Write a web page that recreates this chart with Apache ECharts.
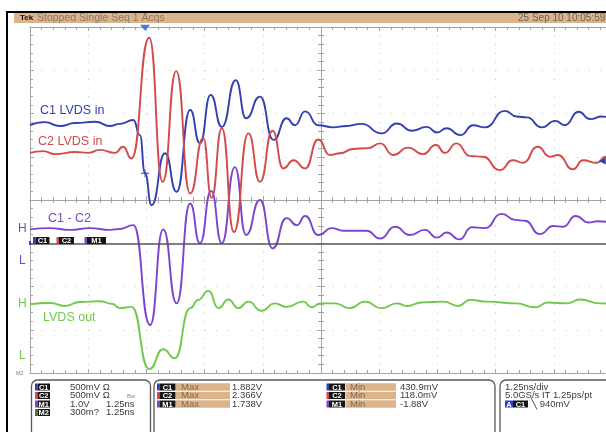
<!DOCTYPE html>
<html>
<head>
<meta charset="utf-8">
<script src="https://cdn.jsdelivr.net/npm/echarts@6/dist/echarts.min.js"></script>
<style>
html, body { margin: 0; padding: 0; background: #fff; }
#scope { width: 606px; height: 432px; }
</style>
</head>
<body>
<div id="scope"></div>
<script>
// time in ns (1.25 ns/div, trigger at 0), level in screen divisions (centre = 0)
var c1In = [[-2.50,1.73],[-2.18,1.80],[-1.86,1.71],[-1.53,1.78],[-1.10,1.81],[-0.78,1.71],[-0.57,1.76],[-0.28,1.85],
  [-0.14,1.50],[-0.03,0.62],[0.11,-0.12],[0.40,1.08],[0.65,0.19],[0.94,2.08],[1.15,1.31],[1.38,2.43],[1.62,1.69],
  [1.92,2.77],[2.14,1.89],[2.44,2.39],[2.73,1.39],[3.01,1.89],[3.19,1.73],[3.41,2.05],[3.69,1.73],[4.01,1.68],
  [4.30,1.71],[4.62,1.76],[5.05,1.54],[5.38,1.77],[5.70,1.60],[6.02,1.69],[6.24,1.56],[6.45,1.66],[6.74,1.50],
  [7.02,1.73],[7.27,1.68],[7.70,2.06],[7.95,1.93],[8.17,1.91],[8.49,1.68],[8.78,1.83],[8.99,1.73],[9.28,2.04],
  [9.53,1.87],[9.78,1.93],[10.0,1.88]];

var c2In = [[-2.50,1.09],[-2.22,1.13],[-1.96,1.06],[-1.53,1.11],[-1.25,1.09],[-1.00,1.16],[-0.67,1.09],[-0.50,1.23],
  [-0.32,0.96],[0.06,3.75],[0.35,0.42],[0.64,2.98],[0.94,0.15],[1.22,1.43],[1.40,0.05],[1.62,1.66],[1.88,-0.74],
  [2.19,1.54],[2.44,0.42],[2.71,1.60],[2.94,0.73],[3.16,0.92],[3.41,0.73],[3.69,1.40],[3.94,1.04],[4.16,1.08],
  [4.44,1.18],[4.76,1.20],[5.02,1.31],[5.30,1.04],[5.62,1.21],[5.94,1.06],[6.22,1.27],[6.41,1.09],[6.66,1.31],
  [6.95,1.02],[7.23,1.00],[7.59,0.69],[7.87,0.92],[8.09,0.86],[8.40,1.23],[8.67,1.00],[8.84,1.04],[9.16,0.71],
  [9.38,0.92],[9.67,0.86],[9.87,1.00],[10.0,1.05]];

var m1Diff = [[-2.50,-0.68],[-2.07,-0.65],[-1.64,-0.69],[-1.21,-0.65],[-0.78,-0.69],[-0.57,-0.67],[-0.28,-0.58],
  [0.08,-2.89],[0.36,-0.68],[0.65,-2.39],[0.94,-0.08],[1.15,-1.00],[1.39,0.21],[1.62,-1.00],[1.90,0.76],[2.14,-0.81],
  [2.44,0.00],[2.71,-1.12],[3.01,-0.42],[3.23,-0.58],[3.41,-0.37],[3.69,-0.81],[3.98,-0.65],[4.23,-0.71],[4.73,-0.71],
  [5.02,-0.89],[5.34,-0.62],[5.66,-0.81],[5.98,-0.69],[6.24,-0.87],[6.45,-0.75],[6.72,-0.91],[6.99,-0.63],[7.27,-0.65],
  [7.63,-0.32],[7.92,-0.46],[8.13,-0.48],[8.45,-0.79],[8.74,-0.60],[8.95,-0.62],[9.22,-0.37],[9.49,-0.52],[9.70,-0.49],
  [10.0,-0.54]];

var lvdsOut = [[-2.50,-2.41],[-2.07,-2.38],[-1.75,-2.45],[-1.43,-2.36],[-1.00,-2.34],[-0.74,-2.40],[-0.57,-2.50],
  [-0.32,-2.47],[0.06,-3.91],[0.36,-3.45],[0.61,-3.66],[0.94,-2.50],[1.11,-2.31],[1.33,-2.10],[1.55,-2.50],[1.76,-2.30],
  [1.97,-2.50],[2.19,-2.35],[2.47,-2.56],[2.76,-2.39],[3.01,-2.47],[3.37,-2.35],[3.55,-2.48],[3.73,-2.39],[4.05,-2.39],
  [4.37,-2.50],[4.69,-2.35],[5.05,-2.50],[5.38,-2.39],[5.59,-2.45],[5.91,-2.37],[6.38,-2.35],[6.70,-2.45],[6.95,-2.31],
  [7.31,-2.35],[7.95,-2.39],[8.34,-2.48],[8.63,-2.37],[9.03,-2.39],[9.31,-2.30],[9.74,-2.39],[10.0,-2.40]];

var refLevel = -1.02;   // dark reference line
var chanRows = [['C1', '500mV Ω', ''], ['C2', '500mV Ω', ''], ['M1', '1.0V', '1.25ns'], ['M2', '300m?', '1.25ns']];
var maxVals = ['1.882V', '2.366V', '1.738V'];
var minVals = ['430.9mV', '118.0mV', '-1.88V'];

var BLUE = '#3440b0', RED = '#d24a4a', PURPLE = '#7b45cf', GREEN = '#70c94a', OLIVE = '#4b7a2c';
var TAN = '#dbb48c', TICK = '#a4a4a4';
var FONT = '"Liberation Sans", Arial, sans-serif';
var stripeCol = { C1: BLUE, C2: RED, M1: PURPLE, M2: OLIVE };

var chart = echarts.init(document.getElementById('scope'));

function xAx(pos, offset, grid) {
  return {
    type: 'value', min: -2.5, max: 10, interval: 1.25, position: pos, offset: offset,
    axisLine: { onZero: false, lineStyle: { color: TICK, width: 1 } },
    axisTick: { inside: true, length: 4, lineStyle: { color: TICK } },
    minorTick: { show: true, splitNumber: 5, length: 3, lineStyle: { color: TICK } },
    axisLabel: { show: false },
    splitLine: { show: grid, lineStyle: { color: '#c4c4c4', type: [1, 7.65], width: 1 } }
  };
}
function yAx(pos, offset, grid) {
  return {
    type: 'value', min: -4, max: 4, interval: 1, position: pos, offset: offset,
    axisLine: { onZero: false, lineStyle: { color: TICK, width: 1 } },
    axisTick: { inside: true, length: 4, lineStyle: { color: TICK } },
    minorTick: { show: true, splitNumber: 5, length: 3, lineStyle: { color: TICK } },
    axisLabel: { show: false },
    splitLine: { show: grid, lineStyle: { color: '#c4c4c4', type: [1, 10.64], width: 1 } }
  };
}
function trace(name, data, color) {
  return {
    name: name, type: 'line', data: data, showSymbol: false, smooth: 0.55, smoothMonotone: 'x',
    lineStyle: { color: color, width: 1.9 }, itemStyle: { color: color }, z: 3
  };
}
function txt(x, y, s, size, color, extra) {
  return { type: 'text', x: x, y: y, silent: true, z: 100,
    style: Object.assign({ text: s, font: size + 'px ' + FONT, fill: color, verticalAlign: 'middle' }, extra || {}) };
}
function box(x, y, w, h, fill, extra) {
  return { type: 'rect', silent: true, z: 99, shape: Object.assign({ x: x, y: y, width: w, height: h }, extra || {}), style: { fill: fill } };
}
function badge(x, y, label, w) {
  return [
    box(x, y - 3.5, 2.5, 7, stripeCol[label]),
    box(x + 2.5, y - 3.5, w, 7, '#151515'),
    txt(x + 2.5 + w / 2, y + 0.5, label, 7.5, '#fff', { align: 'center', font: 'bold 7.5px ' + FONT })
  ];
}

var g = [];
// screen frame and title strip
g.push({ type: 'line', silent: true, shape: { x1: 7, y1: 12, x2: 7, y2: 432 }, style: { stroke: '#000', lineWidth: 2 } });
g.push({ type: 'line', silent: true, shape: { x1: 6, y1: 12, x2: 606, y2: 12 }, style: { stroke: '#000', lineWidth: 2 } });
g.push(box(14, 13, 592, 10, TAN));
g.push(txt(20, 18, 'Tek', 8, '#111', { font: 'bold 8px ' + FONT }));
g.push(txt(37, 18, 'Stopped Single Seq 1 Acqs', 10.5, '#8a7a6a'));
g.push(txt(518, 18, '25 Sep 10 10:05:59', 10, '#6a6258'));

// trace labels
g.push(txt(40, 111, 'C1 LVDS in', 12.5, BLUE));
g.push(txt(38, 142, 'C2 LVDS in', 12.5, RED));
g.push(txt(48, 219, 'C1 - C2', 12.5, PURPLE));
g.push(txt(43, 318, 'LVDS out', 12.5, GREEN));
g.push(txt(18, 229, 'H', 12, PURPLE));
g.push(txt(19, 261, 'L', 12, PURPLE));
g.push(txt(18, 304, 'H', 12, GREEN));
g.push(txt(19, 356, 'L', 12, GREEN));
g.push(txt(16, 373, 'M2', 5.5, '#777'));
g.push(box(29, 241, 2, 4, BLUE));
g = g.concat(badge(33, 240.5, 'C1', 14), badge(56.5, 240.5, 'C2', 15), badge(84.5, 240.5, 'M1', 19));

// readout panels
var rows = [387, 395.5, 404, 412.5];
var panel = { stroke: '#5a5a5a', fill: 'none', lineWidth: 1.3 };
g.push({ type: 'rect', silent: true, z: 98, shape: { x: 31.5, y: 380, width: 119, height: 60, r: 6 }, style: panel });
g.push({ type: 'rect', silent: true, z: 98, shape: { x: 154, y: 380, width: 341, height: 60, r: 6 }, style: panel });
g.push({ type: 'rect', silent: true, z: 98, shape: { x: 500, y: 380, width: 120, height: 60, r: 6 }, style: panel });
chanRows.forEach(function (r, i) {
  g = g.concat(badge(35, rows[i], r[0], 12.5));
  g.push(txt(70, rows[i], r[1], 9.5, '#3a3a3a'));
  if (r[2]) g.push(txt(106, rows[i], r[2], 9.5, '#3a3a3a'));
});
g.push(txt(127, rows[1] + 1, 'Bw', 6, '#8a8a8a'));
maxVals.forEach(function (v, i) {
  var lab = chanRows[i][0];
  g = g.concat(badge(157, rows[i], lab, 16));
  g.push(box(176, rows[i] - 3.8, 54, 7.6, TAN));
  g.push(txt(181, rows[i], 'Max', 9.5, '#7c6a58'));
  g.push(txt(232, rows[i], v, 9.5, '#3a3a3a'));
});
minVals.forEach(function (v, i) {
  var lab = chanRows[i][0];
  g = g.concat(badge(326.5, rows[i], lab, 16));
  g.push(box(345.5, rows[i] - 3.8, 50.5, 7.6, TAN));
  g.push(txt(350, rows[i], 'Min', 9.5, '#7c6a58'));
  g.push(txt(400, rows[i], v, 9.5, '#3a3a3a'));
});
g.push(txt(505, rows[0], '1.25ns/div', 9.5, '#3a3a3a'));
g.push(txt(505, rows[1], '5.0GS/s IT 1.25ps/pt', 9.5, '#3a3a3a'));
g.push(box(505, rows[2] - 3.5, 8, 7, '#2c3fd0'));
g.push(txt(509, rows[2] + 0.5, 'A', 7.5, '#fff', { align: 'center', font: 'bold 7.5px ' + FONT }));
g.push(box(513, rows[2] - 3.5, 15, 7, '#151515'));
g.push(txt(520.5, rows[2] + 0.5, 'C1', 7.5, '#fff', { align: 'center', font: 'bold 7.5px ' + FONT }));
g.push(txt(531, rows[2], '\u2572 940mV', 9.5, '#3a3a3a'));

var blue = trace('C1 LVDS in', c1In, BLUE);
blue.markPoint = {
  silent: true, label: { show: false },
  data: [
    { coord: [-0.03, 3.98], symbol: 'triangle', symbolRotate: 180, symbolSize: [10, 6], itemStyle: { color: '#3d7fd9' } },
    { coord: [-0.03, 0.62], symbol: 'path://M0,4.4h10v1.2H0zM4.4,0h1.2v10H4.4z', symbolSize: 8, itemStyle: { color: BLUE } },
    { coord: [9.79, 0.90], symbol: 'triangle', symbolRotate: 90, symbolSize: [7, 7], itemStyle: { color: BLUE } }
  ]
};
var purple = trace('C1 - C2', m1Diff, PURPLE);
purple.markLine = {
  silent: true, symbol: ['none', 'none'], label: { show: false },
  lineStyle: { color: '#555', width: 1.5, type: 'solid' },
  data: [{ yAxis: refLevel }]
};

chart.setOption({
  animation: false,
  backgroundColor: '#fff',
  grid: { left: 30, top: 27, width: 582, height: 346, outerBoundsMode: 'none', containLabel: false },
  xAxis: [xAx('bottom', 0, true), xAx('top', 0, false), xAx('bottom', -173, false), xAx('top', -173, false)],
  yAxis: [yAx('left', 0, true), yAx('right', 0, false), yAx('left', -291, false), yAx('right', -291, false)],
  graphic: g,
  series: [
    trace('LVDS out', lvdsOut, GREEN),
    purple,
    blue,
    trace('C2 LVDS in', c2In, RED)
  ]
});
</script>
</body>
</html>
